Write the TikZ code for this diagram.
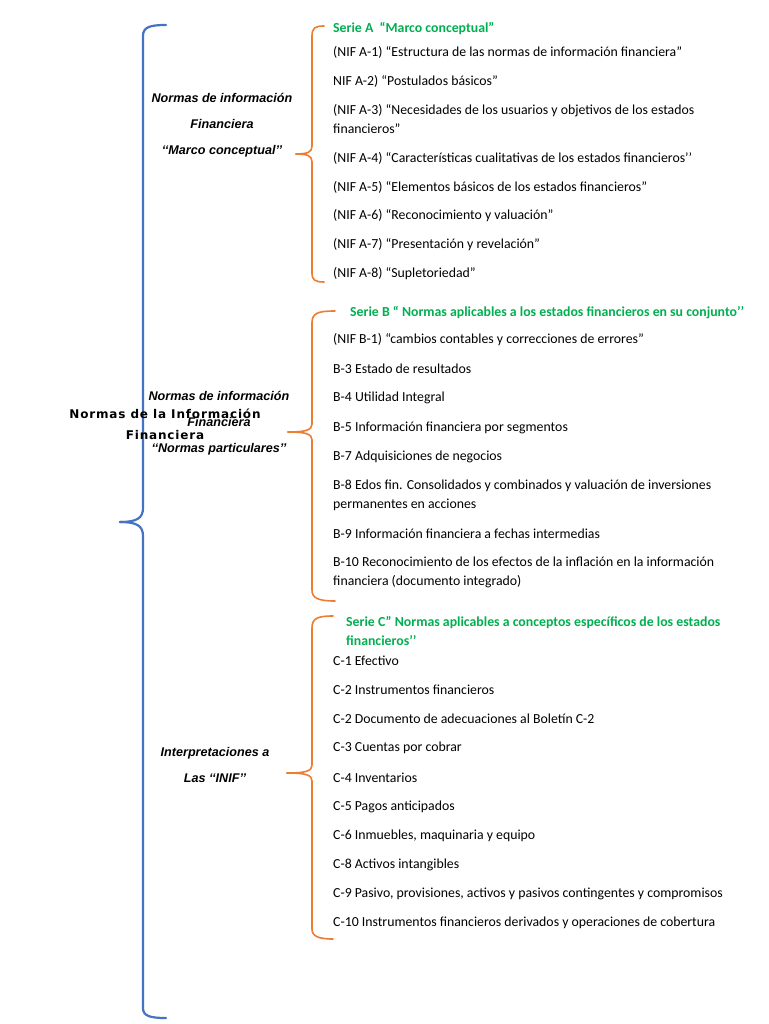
\documentclass[tikz,border=0pt]{standalone}
\usepackage{fontspec}
\setmainfont{Carlito}
\newfontfamily\arialfont{Liberation Sans}
\newfontfamily\titlefont[LetterSpace=7]{DejaVu Sans}
\definecolor{serieGreen}{HTML}{00B050}
\definecolor{braceOrange}{HTML}{ED7D31}
\definecolor{braceBlue}{HTML}{4472C4}
\begin{document}
\begin{tikzpicture}[x=1pt,y=-1pt,
  item/.style={anchor=west, inner sep=0pt, align=left, font=\fontsize{13.8}{19}\selectfont},
  head/.style={item, text=serieGreen, font=\bfseries\fontsize{13.8}{19}\selectfont},
  sidelabel/.style={inner sep=0pt, align=center, font=\arialfont\bfseries\itshape\fontsize{12.6}{26}\selectfont},
  maintitle/.style={inner sep=0pt, align=center, font=\titlefont\bfseries\fontsize{12}{21}\selectfont},
  bluebrace/.style={draw=braceBlue, line width=2.2pt, line cap=round},
  orangebrace/.style={draw=braceOrange, line width=1.6pt, line cap=round}]
\useasboundingbox[fill=white] (0,0) rectangle (768,1024);

% blue brace
\draw[bluebrace] (166,25) .. controls (150,25) and (143,27) .. (143,36) -- (143,508) .. controls (143,518) and (137,522) .. (120,522);
\draw[bluebrace] (120,522) .. controls (137,522) and (143,526) .. (143,536) -- (143,1008) .. controls (143,1016) and (150,1018) .. (166,1018);

% orange brace A
\draw[orangebrace] (324,26) .. controls (315,26) and (312,28) .. (312,36) -- (312,146) .. controls (312,152) and (308,154) .. (296,154);
\draw[orangebrace] (296,154) .. controls (308,154) and (312,156) .. (312,162) -- (312,273) .. controls (312,280) and (315,282) .. (324,282);
% orange brace B
\draw[orangebrace] (335,311) .. controls (318,311) and (312,313) .. (312,323) -- (312,424) .. controls (312,430) and (306,432) .. (288,432);
\draw[orangebrace] (288,432) .. controls (306,432) and (312,434) .. (312,440) -- (312,590) .. controls (312,598) and (318,601) .. (335,601);
% orange brace C
\draw[orangebrace] (333,616) .. controls (318,616) and (312,618) .. (312,628) -- (312,765) .. controls (312,771) and (306,773) .. (287,773);
\draw[orangebrace] (287,773) .. controls (306,773) and (312,775) .. (312,781) -- (312,929) .. controls (312,936) and (318,939) .. (333,939);

% main title
\node[maintitle] (title) at (165,424) {Normas de la Información\\Financiera};

% side labels
\node[sidelabel] (lblA) at (222,125) {Normas de información\\Financiera\\‘‘Marco conceptual’’};
\node[sidelabel] (lblB) at (219,423) {Normas de información\\Financiera\\‘‘Normas particulares’’};
\node[sidelabel] (lblC) at (215,765) {Interpretaciones a\\Las ‘‘INIF’’};

% Serie A
\node[head] (hA) at (333,28) {Serie A\ \ “Marco conceptual”};
\node[item] (a1) at (333,52) {(NIF A-1) “Estructura de las normas de información financiera”};
\node[item] (a2) at (333,81) {NIF A-2) “Postulados básicos”};
\node[item] (a3) at (333,119.5) {(NIF A-3) “Necesidades de los usuarios y objetivos de los estados\\financieros”};
\node[item] (a4) at (333,158) {(NIF A-4) “Características cualitativas de los estados financieros’’};
\node[item] (a5) at (333,187) {(NIF A-5) “Elementos básicos de los estados financieros”};
\node[item] (a6) at (333,216) {(NIF A-6) “Reconocimiento y valuación”};
\node[item] (a7) at (333,245) {(NIF A-7) “Presentación y revelación”};
\node[item] (a8) at (333,274) {(NIF A-8) “Supletoriedad”};

% Serie B
\node[head] (hB) at (350,313) {Serie B “ Normas aplicables a los estados financieros en su conjunto’’};
\node[item] (b1) at (333,340) {(NIF B-1) “cambios contables y correcciones de errores”};
\node[item] (b3) at (333,369) {B-3 Estado de resultados};
\node[item] (b4) at (333,398) {B-4 Utilidad Integral};
\node[item] (b5) at (333,428) {B-5 Información financiera por segmentos};
\node[item] (b7) at (333,457) {B-7 Adquisiciones de negocios};
\node[item] (b8) at (333,495.5) {B-8 Edos fin. Consolidados y combinados y valuación de inversiones\\permanentes en acciones};
\node[item] (b9) at (333,534) {B-9 Información financiera a fechas intermedias};
\node[item] (b10) at (333,572.5) {B-10 Reconocimiento de los efectos de la inflación en la información\\financiera (documento integrado)};

% Serie C
\node[head] (hC) at (346,631.5) {Serie C” Normas aplicables a conceptos específicos de los estados\\financieros’’};
\node[item] (c1) at (333,661) {C-1 Efectivo};
\node[item] (c2) at (333,690) {C-2 Instrumentos financieros};
\node[item] (c2b) at (333,719) {C-2 Documento de adecuaciones al Boletín C-2};
\node[item] (c3) at (333,748) {C-3 Cuentas por cobrar};
\node[item] (c4) at (333,778) {C-4 Inventarios};
\node[item] (c5) at (333,807) {C-5 Pagos anticipados};
\node[item] (c6) at (333,836) {C-6 Inmuebles, maquinaria y equipo};
\node[item] (c8) at (333,865) {C-8 Activos intangibles};
\node[item] (c9) at (333,894) {C-9 Pasivo, provisiones, activos y pasivos contingentes y compromisos};
\node[item] (c10) at (333,923) {C-10 Instrumentos financieros derivados y operaciones de cobertura};
\end{tikzpicture}
\end{document}
